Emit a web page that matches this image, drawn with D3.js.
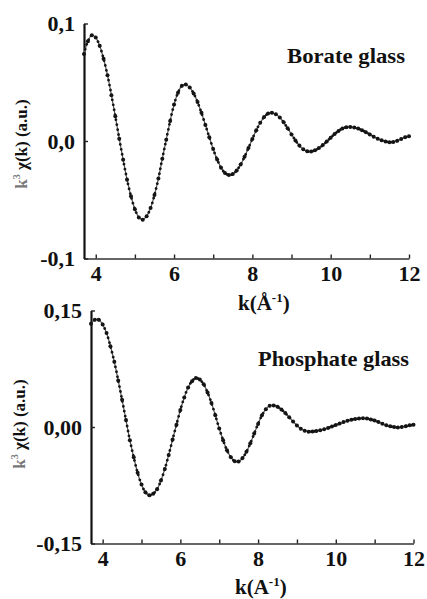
<!DOCTYPE html>
<html>
<head>
<meta charset="utf-8">
<script src="https://cdn.jsdelivr.net/npm/d3@7"></script>
<style>
  body { margin: 0; background: #fff; }
  svg text { font-family: "Liberation Serif", "DejaVu Serif", serif; fill: #111; }
</style>
</head>
<body>
<svg id="chart" width="427" height="599"></svg>
<script>
  // k grid shared by both spectra (Å^-1)
  var kValues = [3.7, 3.8, 3.9, 4.0, 4.1, 4.2, 4.3, 4.4, 4.5, 4.6,
    4.7, 4.8, 4.9, 5.0, 5.1, 5.2, 5.3, 5.4, 5.5, 5.6,
    5.7, 5.8, 5.9, 6.0, 6.1, 6.2, 6.3, 6.4, 6.5, 6.6,
    6.7, 6.8, 6.9, 7.0, 7.1, 7.2, 7.3, 7.4, 7.5, 7.6,
    7.7, 7.8, 7.9, 8.0, 8.1, 8.2, 8.3, 8.4, 8.5, 8.6,
    8.7, 8.8, 8.9, 9.0, 9.1, 9.2, 9.3, 9.4, 9.5, 9.6,
    9.7, 9.8, 9.9, 10.0, 10.1, 10.2, 10.3, 10.4, 10.5, 10.6,
    10.7, 10.8, 10.9, 11.0, 11.1, 11.2, 11.3, 11.4, 11.5, 11.6,
    11.7, 11.8, 11.9, 12.0];

  var borateChi = [0.074, 0.085, 0.090, 0.088, 0.081, 0.070, 0.056, 0.039, 0.021, 0.002,
    -0.016, -0.033, -0.047, -0.058, -0.065, -0.067, -0.064, -0.057, -0.046, -0.032,
    -0.015, 0.001, 0.017, 0.031, 0.041, 0.047, 0.048, 0.0456, 0.0405, 0.0331,
    0.024, 0.0137, 0.0032, -0.0069, -0.0157, -0.0227, -0.0272, -0.029, -0.0281, -0.025,
    -0.020, -0.0134, -0.006, 0.0018, 0.0092, 0.0155, 0.0204, 0.0233, 0.024, 0.0228,
    0.020, 0.0159, 0.0109, 0.0056, 0.0005, -0.0039, -0.0071, -0.0088, -0.0089, -0.0079,
    -0.006, -0.0035, -0.0004, 0.0028, 0.0059, 0.0086, 0.0106, 0.0118, 0.012, 0.0115,
    0.0106, 0.0092, 0.0075, 0.0056, 0.0037, 0.002, 0.0006, -0.0005, -0.001, -0.0008,
    0.0002, 0.0017, 0.0032, 0.004];

  var phosphateChi = [0.133, 0.138, 0.138, 0.132, 0.121, 0.104, 0.084, 0.060, 0.035, 0.009,
    -0.017, -0.039, -0.059, -0.074, -0.084, -0.088, -0.086, -0.080, -0.069, -0.054,
    -0.036, -0.016, 0.003, 0.022, 0.038, 0.051, 0.059, 0.063, 0.061, 0.055,
    0.0445, 0.031, 0.015, -0.002, -0.017, -0.030, -0.039, -0.044, -0.0445, -0.040,
    -0.032, -0.021, -0.0085, 0.004, 0.015, 0.023, 0.0275, 0.0278, 0.026, 0.0226,
    0.018, 0.0127, 0.0071, 0.002, -0.0021, -0.0049, -0.006, -0.0058, -0.0052, -0.0042,
    -0.0029, -0.0012, 0.0006, 0.0025, 0.0044, 0.0063, 0.0079, 0.0093, 0.0103, 0.011,
    0.0112, 0.0109, 0.0098, 0.0083, 0.0064, 0.0043, 0.0024, 0.0009, -0.0001, -0.0005,
    0.0001, 0.0011, 0.0022, 0.0028];

  var kTicks = [4, 5, 6, 7, 8, 9, 10, 11, 12];
  var borateTicks = [-0.1, 0.0, 0.1];
  var phosphateTicks = [-0.15, 0.0, 0.15];

  var commaLocale = d3.formatLocale({decimal: ",", thousands: ".", grouping: [3], currency: ["", ""], minus: "-"});

  var svg = d3.select("#chart");

  var panels = [
    {values: borateChi, yTicks: borateTicks, yDomain: [-0.1, 0.1], fmt: ".1f",
     left: 84, right: 409, top: 23.5, bottom: 258.5,
     title: "Borate glass", titleX: 287, titleY: 63, titleLen: 118,
     xLabel: "k(Å", xLabelX: 238, xLabelY: 310, yLabelX: 27, yLabelY: 144},
    {values: phosphateChi, yTicks: phosphateTicks, yDomain: [-0.15, 0.15], fmt: ".2f",
     left: 91, right: 413.5, top: 310.5, bottom: 543.5,
     title: "Phosphate glass", titleX: 258, titleY: 366, titleLen: 151,
     xLabel: "k(A", xLabelX: 235, xLabelY: 594, yLabelX: 25, yLabelY: 424}
  ];

  panels.forEach(function(p) {
    var x = d3.scaleLinear().domain([3.7, 12]).range([p.left, p.right]);
    var y = d3.scaleLinear().domain(p.yDomain).range([p.bottom, p.top]);
    var g = svg.append("g");

    // x axis, ticks point inward, labels on even k
    var xAxis = g.append("g")
      .attr("transform", "translate(0," + p.bottom + ")")
      .call(d3.axisBottom(x).tickValues(kTicks).tickSizeInner(-4).tickSizeOuter(0).tickPadding(7)
        .tickFormat(function(d) { return d % 2 === 0 ? d : ""; }));
    xAxis.select(".domain").attr("stroke", "#333").attr("stroke-width", 1.6);
    xAxis.selectAll(".tick line").attr("stroke", "#222").attr("stroke-width", 1.4);
    xAxis.selectAll(".tick text").attr("font-size", 22).attr("font-weight", "bold").attr("fill", "#111");

    // y axis
    var yAxis = g.append("g")
      .attr("transform", "translate(" + p.left + ",0)")
      .call(d3.axisLeft(y).tickValues(p.yTicks).tickSizeInner(-4).tickSizeOuter(0).tickPadding(9)
        .tickFormat(commaLocale.format(p.fmt)));
    yAxis.select(".domain").attr("stroke", "#111").attr("stroke-width", 2.2);
    yAxis.selectAll(".tick line").attr("stroke", "#222").attr("stroke-width", 1.4);
    yAxis.selectAll(".tick text").attr("font-size", 22).attr("font-weight", "bold").attr("fill", "#111");

    var pts = kValues.map(function(k, i) { return [k, p.values[i]]; });
    var line = d3.line()
      .x(function(d) { return x(d[0]); })
      .y(function(d) { return y(d[1]); })
      .curve(d3.curveCatmullRom);

    // connecting trace
    g.append("path").datum(pts)
      .attr("d", line).attr("fill", "none")
      .attr("stroke", "#555").attr("stroke-width", 1.2);

    // dotted trace (data points look like beads on steep parts)
    g.append("path").datum(pts)
      .attr("d", line).attr("fill", "none")
      .attr("stroke", "#151515").attr("stroke-width", 2.8)
      .attr("stroke-linecap", "round").attr("stroke-dasharray", "0.01 5");

    g.selectAll("circle.pt").data(pts).enter().append("circle")
      .attr("class", "pt")
      .attr("cx", function(d) { return x(d[0]); })
      .attr("cy", function(d) { return y(d[1]); })
      .attr("r", 2.0)
      .attr("fill", "#151515");

    // sample title
    g.append("text")
      .attr("x", p.titleX).attr("y", p.titleY)
      .attr("font-size", 21).attr("font-weight", "bold")
      .attr("textLength", p.titleLen).attr("lengthAdjust", "spacingAndGlyphs")
      .text(p.title);

    // x label
    var xl = g.append("text")
      .attr("x", p.xLabelX).attr("y", p.xLabelY)
      .attr("font-size", 21).attr("font-weight", "bold");
    xl.append("tspan").text(p.xLabel);
    xl.append("tspan").attr("font-size", 13).attr("dy", -8).text("-1");
    xl.append("tspan").attr("dy", 8).text(")");

    // y label, rotated
    var yl = g.append("text")
      .attr("transform", "translate(" + p.yLabelX + "," + p.yLabelY + ") rotate(-90)")
      .attr("text-anchor", "middle")
      .attr("font-size", 17).attr("font-weight", "bold");
    yl.append("tspan").attr("fill", "#777").text("k");
    yl.append("tspan").attr("font-size", 10).attr("dy", -7).attr("fill", "#777").text("3");
    yl.append("tspan").attr("dy", 7).text(" χ(k) (a.u.)");
  });
</script>
</body>
</html>
